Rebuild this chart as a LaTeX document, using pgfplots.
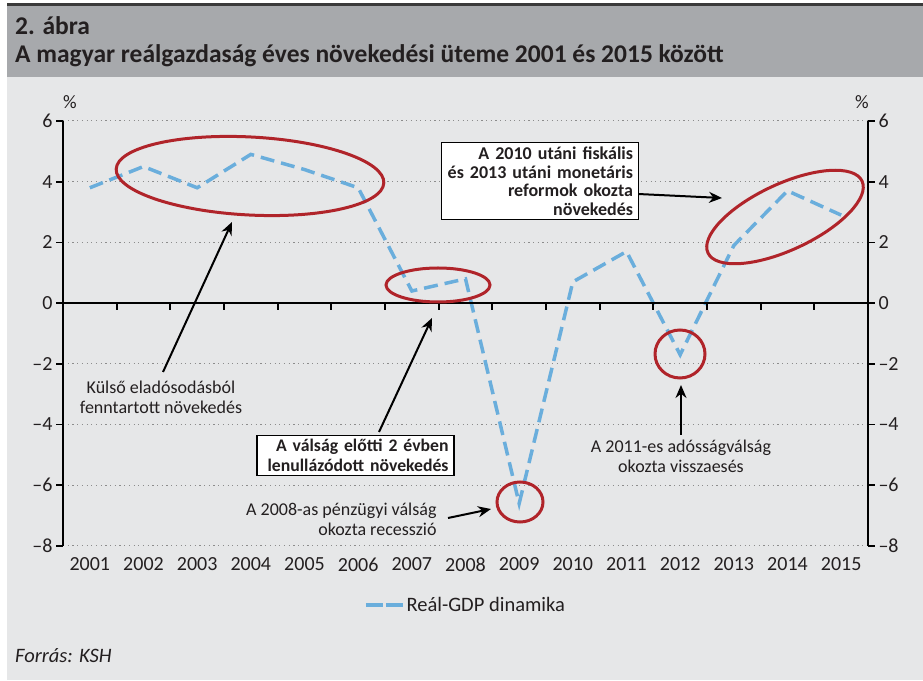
\documentclass[border=0pt]{standalone}
\usepackage{fontspec}
\setmainfont{Carlito}
\usepackage{pgfplots}
\pgfplotsset{compat=1.18}
\usetikzlibrary{arrows.meta}
\definecolor{band}{HTML}{A7A9AC}
\definecolor{bg}{HTML}{E6E7E8}
\definecolor{gdp}{HTML}{6AAEDC}
\definecolor{ered}{HTML}{B0242A}
\definecolor{topline}{HTML}{3A3A3A}
\definecolor{txt}{HTML}{231F20}
\begin{document}
\begin{tikzpicture}[x=1pt,y=1pt]
\useasboundingbox (0,0) rectangle (923,680);
\fill[white] (0,0) rectangle (923,680);
\fill[bg] (7,0) rectangle (923,603);
\fill[band] (7,603) rectangle (923,673.5);
\fill[topline] (7,673.5) rectangle (923,677);
\node[anchor=base west, font=\fontsize{25.5}{28}\selectfont\bfseries, text=txt, inner sep=0pt] at (15,645) {2. ábra};
\node[anchor=base west, font=\fontsize{25.5}{28}\selectfont\bfseries, text=txt, inner sep=0pt] at (15,617) {A magyar reálgazdaság éves növekedési üteme 2001 és 2015 között};

\begin{axis}[at={(63pt,134pt)}, anchor=south west, scale only axis, width=805pt, height=425pt,
  xmin=2000.5, xmax=2015.5, ymin=-8, ymax=6,
  xtick={2001,2002,2003,2004,2005,2006,2007,2008,2009,2010,2011,2012,2013,2014,2015},
  xticklabels={2001,2002,2003,2004,2005,2006,2007,2008,2009,2010,2011,2012,2013,2014,2015},
  ytick={-8,-6,-4,-2,0,2,4,6},
  yticklabels={–8,–6,–4,–2,0,2,4,6},
  ymajorgrids, major grid style={black!45, line width=1pt, dash pattern=on 1.2pt off 3.5pt},
  axis line style={draw=none},
  xtick style={draw=none},
  ytick pos=left, tick align=outside, ytick style={line width=1.8pt, black}, major tick length=7pt,
  tick label style={font=\fontsize{20}{24}\selectfont, text=txt},
  xticklabel style={yshift=-1pt},
  clip=false,
  legend style={at={(0.5,-0.139)}, anchor=center, draw=none, fill=none, font=\fontsize{20.5}{24}\selectfont, text=txt},
  legend image code/.code={\draw[#1, dash pattern=on 17pt off 3pt] (0pt,0pt) -- (37pt,0pt);},
]
\addplot[gdp, line width=3.5pt, dash pattern=on 14pt off 7pt] coordinates {
(2001,3.8) (2002,4.5) (2003,3.8) (2004,4.9) (2005,4.4) (2006,3.8) (2007,0.4) (2008,0.8)
(2009,-6.6) (2010,0.7) (2011,1.7) (2012,-1.7) (2013,1.9) (2014,3.7) (2015,2.9)};
\addlegendentry{Reál-GDP dinamika}
\draw[black, line width=2pt] (rel axis cs:0,0) -- (rel axis cs:0,1);
\draw[black, line width=2pt] (rel axis cs:1,0) -- (rel axis cs:1,1);
\draw[black, line width=2pt] (axis cs:2000.5,0) -- (axis cs:2015.5,0);
\pgfplotsinvokeforeach{2001.5,2002.5,2003.5,2004.5,2005.5,2006.5,2007.5,2008.5,2009.5,2010.5,2011.5,2012.5,2013.5,2014.5}{
  \draw[black, line width=1.8pt] (axis cs:#1,0) -- (axis cs:#1,-0.22);
}
\end{axis}
\begin{axis}[at={(63pt,134pt)}, anchor=south west, scale only axis, width=805pt, height=425pt,
  xmin=2000.5, xmax=2015.5, ymin=-8, ymax=6,
  hide x axis, axis line style={draw=none},
  ytick={-8,-6,-4,-2,0,2,4,6},
  yticklabels={–8,–6,–4,–2,0,2,4,6},
  ytick pos=right, yticklabel pos=right, tick align=outside, ytick style={line width=1.8pt, black}, major tick length=7pt,
  tick label style={font=\fontsize{20}{24}\selectfont, text=txt},
]
\end{axis}

\node[font=\fontsize{19}{22}\selectfont, text=txt] at (70,578) {\%};
\node[font=\fontsize{19}{22}\selectfont, text=txt] at (862,578) {\%};

% ellipses
\draw[ered, line width=3pt] (250,504) ellipse [x radius=134, y radius=39, rotate=-3];
\draw[ered, line width=3pt] (438,395) ellipse [x radius=52, y radius=17];
\draw[ered, line width=3pt] (520,178) ellipse [x radius=23, y radius=20];
\draw[ered, line width=3pt] (680,326) ellipse [x radius=25, y radius=24];
\draw[ered, line width=3pt] (785,463) ellipse [x radius=85, y radius=33, rotate=25];

% arrows
\begin{scope}[line width=2pt, black, -{Stealth[length=13pt,width=11pt]}]
\draw (163,308) -- (232,458);
\draw (379,248) -- (432,362);
\draw (448,162) -- (491,171);
\draw (681,245) -- (681,295);
\draw (638,486) -- (722,482);
\end{scope}

% labels
\node[align=center, font=\fontsize{18}{20}\selectfont, text=txt] at (161,283) {Külső eladósodásból\\fenntartott növekedés};
\node[draw=black, line width=1.2pt, fill=white, text width=186pt, align=right, inner xsep=5.5pt, inner ysep=4pt, font=\fontsize{17.7}{20}\selectfont\bfseries, text=txt] at (355.5,224.5) {A válság előtti 2 évben\\lenullázódott növekedés};
\node[draw=black, line width=1.2pt, fill=white, text width=186pt, align=right, inner xsep=5.5pt, inner ysep=4pt, font=\fontsize{18}{18.5}\selectfont\bfseries, text=txt] at (540,499) {A 2010 utáni fiskális\\és 2013 utáni monetáris\\reformok okozta\\növekedés};
\node[anchor=east, align=right, font=\fontsize{18}{20}\selectfont, text=txt] at (440,161) {A 2008-as pénzügyi válság\\okozta recesszió};
\node[align=center, font=\fontsize{18}{20}\selectfont, text=txt] at (681,224) {A 2011-es adósságválság\\okozta visszaesés};

\node[anchor=base west, font=\fontsize{20.5}{24}\selectfont\itshape, text=txt, inner sep=0pt] at (15,18) {Forrás: KSH};
\end{tikzpicture}
\end{document}
